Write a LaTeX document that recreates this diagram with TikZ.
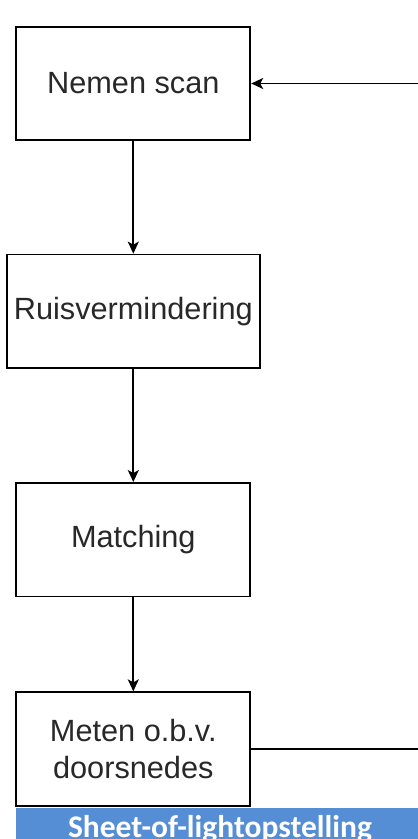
\documentclass[tikz,border=0pt]{standalone}
\usepackage{fontspec}
\setmainfont{Liberation Sans}
\newfontfamily\barfont{Carlito}
\usetikzlibrary{arrows.meta}
\definecolor{barblue}{RGB}{85,142,213}
\definecolor{txtgray}{RGB}{40,40,40}
\tikzset{
  stepbox/.style={draw=black, line width=1.8pt, fill=white, minimum width=234pt, minimum height=113.5pt, inner sep=0pt, align=center, text=txtgray, font=\fontsize{30.7}{36.6}\selectfont},
  flow/.style={draw=black, line width=1.8pt, -{Stealth[length=12pt,width=11pt,inset=3pt]}},
  plain/.style={draw=black, line width=1.8pt}
}
\begin{document}
\begin{tikzpicture}[x=1pt,y=-1pt]
\useasboundingbox (0,0) rectangle (418,839);
\clip (0,0) rectangle (418,839);
\fill[white] (0,0) rectangle (418,839);
\node[stepbox] (scan) at (133.3,83.5) {Nemen scan};
\node[stepbox, minimum width=253.3pt] (ruis) at (133.3,311.3) {Ruisvermindering};
\node[stepbox] (match) at (133.3,539.7) {Matching};
\node[stepbox] (meten) at (133.3,749) {Meten o.b.v.\\doorsnedes};
\coordinate (inR) at (420,83.5);
\coordinate (outR) at (420,749);
\draw[flow] (scan) -- (ruis);
\draw[flow] (ruis) -- (match);
\draw[flow] (match) -- (meten);
\draw[flow] (inR) -- (scan.east);
\draw[plain] (meten.east) -- (outR);
\fill[barblue] (16,808) rectangle (420,845);
\node[anchor=base, inner sep=0pt, text=white, font=\barfont\bfseries\fontsize{31.5}{36}\selectfont] (bar) at (220,837) {Sheet-of-lightopstelling};
\end{tikzpicture}
\end{document}
